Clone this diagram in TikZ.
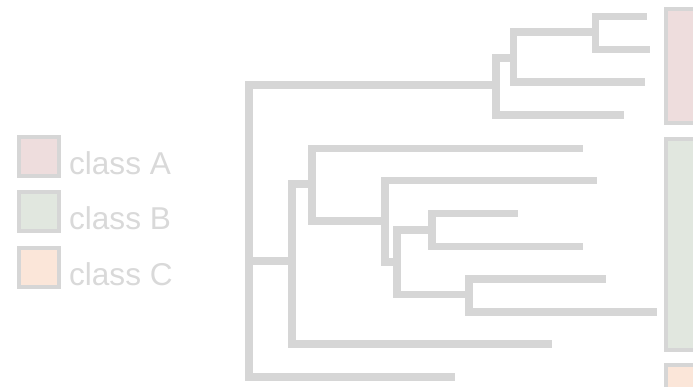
\documentclass[tikz,border=0pt]{standalone}
\usepackage{fontspec}
\setmainfont{Liberation Sans}
\usetikzlibrary{positioning}
\definecolor{dgGray}{HTML}{D6D6D6}
\definecolor{dgText}{HTML}{D9D9D9}
\definecolor{clsA}{HTML}{EEDDDD}
\definecolor{clsB}{HTML}{E1E7DF}
\definecolor{clsC}{HTML}{FBE6D9}

\begin{document}
\begin{tikzpicture}[x=1pt,y=-1pt,
    branch/.style={draw=dgGray,line width=7.7pt,line join=miter},
    swatch/.style={draw=dgGray,line width=4.3pt,minimum size=39.5pt,inner sep=0pt},
    classbar/.style={draw=dgGray,line width=4.3pt},
    keytext/.style={text=dgText,font=\fontsize{31.6}{36}\selectfont,inner sep=0pt}]
  \useasboundingbox (0,0) rectangle (693,386);
  \clip (0,0) rectangle (693,386);

  % legend
  \node[swatch,fill=clsA] (keyA) at (39,156.5) {};
  \node[swatch,fill=clsB] (keyB) at (39,211.5) {};
  \node[swatch,fill=clsC] (keyC) at (39,267.5) {};
  \node[keytext,right=8pt of keyA,yshift=-6.5pt] (txtA) {class A};
  \node[keytext,right=8pt of keyB,yshift=-6.5pt] (txtB) {class B};
  \node[keytext,right=8pt of keyC,yshift=-6.5pt] (txtC) {class C};

  % leaves
  \coordinate (l1)  at (647,16.6);
  \coordinate (l2)  at (650,49.4);
  \coordinate (l3)  at (645,82.2);
  \coordinate (l4)  at (624,115);
  \coordinate (l5)  at (583,148.5);
  \coordinate (l6)  at (597,180.6);
  \coordinate (l7)  at (518,213.6);
  \coordinate (l8)  at (583,246.6);
  \coordinate (l9)  at (606,279);
  \coordinate (l10) at (657,312);
  \coordinate (l11) at (552,344.3);
  \coordinate (l12) at (455,377.2);

  % inner nodes
  \coordinate (root) at (249,261);
  \coordinate (n1) at (595.5,32);
  \coordinate (n2) at (513.5,58);
  \coordinate (n3) at (496,85);
  \coordinate (n4) at (432,230);
  \coordinate (n5) at (469,294.5);
  \coordinate (n6) at (397,262);
  \coordinate (n7) at (385,221);
  \coordinate (n8) at (312,184);
  \coordinate (n9) at (292,261);

  \draw[branch] (root) |- (n3);
  \draw[branch] (root) -- (n9);
  \draw[branch] (root) |- (l12);
  \draw[branch] (n3) |- (n2);
  \draw[branch] (n3) |- (l4);
  \draw[branch] (n2) |- (n1);
  \draw[branch] (n2) |- (l3);
  \draw[branch] (n1) |- (l1);
  \draw[branch] (n1) |- (l2);
  \draw[branch] (n9) |- (n8);
  \draw[branch] (n9) |- (l11);
  \draw[branch] (n8) |- (l5);
  \draw[branch] (n8) |- (n7);
  \draw[branch] (n7) |- (l6);
  \draw[branch] (n7) |- (n6);
  \draw[branch] (n6) |- (n4);
  \draw[branch] (n6) |- (n5);
  \draw[branch] (n4) |- (l7);
  \draw[branch] (n4) |- (l8);
  \draw[branch] (n5) |- (l9);
  \draw[branch] (n5) |- (l10);

  % class bars
  \draw[classbar,fill=clsA] (666.15,8.85) rectangle (720,122.85);
  \draw[classbar,fill=clsB] (666.15,139.15) rectangle (720,349.85);
  \draw[classbar,fill=clsC] (666.15,365.15) rectangle (720,420);
\end{tikzpicture}
\end{document}
